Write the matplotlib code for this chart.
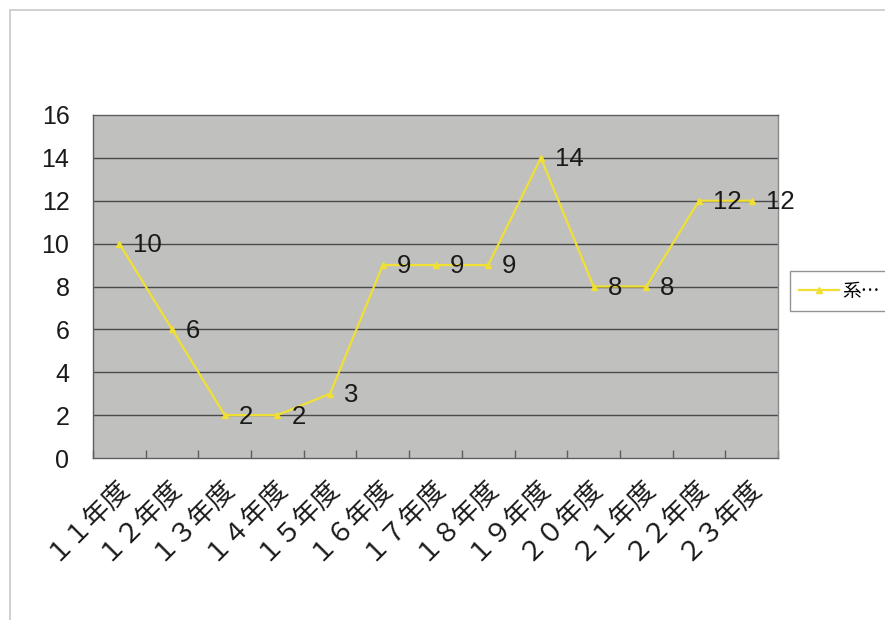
import matplotlib
matplotlib.use("Agg")
import matplotlib.pyplot as plt
from matplotlib.patches import Rectangle
from matplotlib.ticker import MultipleLocator
from matplotlib.transforms import ScaledTranslation

# 年度ごとの件数
categories = ["１１年度", "１２年度", "１３年度", "１４年度", "１５年度", "１６年度", "１７年度",
              "１８年度", "１９年度", "２０年度", "２１年度", "２２年度", "２３年度"]
values = [10, 6, 2, 2, 3, 9, 9, 9, 14, 8, 8, 12, 12]
y_ticks = [0, 2, 4, 6, 8, 10, 12, 14, 16]
series_name = "系…"

line_color = "#f0e034"
plot_bg = "#c0c1be"
frame_color = "#5e5e5e"
text_color = "#1a1a1a"

fig = plt.figure(figsize=(8.85, 6.2), dpi=100)
fig.patch.set_facecolor("white")

# グラフエリアの枠
fig.patches.append(Rectangle((10 / 885, -0.05), 1.1, 1.05 - 10 / 620,
                             transform=fig.transFigure, fill=False,
                             edgecolor="#c8c8c8", linewidth=1.2))

ax = fig.add_axes([93 / 885, 1 - 458 / 620, (778 - 93) / 885, (458 - 115) / 620])
ax.set_facecolor(plot_bg)

x = list(range(len(categories)))
ax.plot(x, values, color=line_color, linewidth=1.6, marker="^", markersize=5,
        markerfacecolor=line_color, markeredgecolor=line_color, label=series_name,
        zorder=3)

for xi, v in zip(x, values):
    ax.annotate(str(v), (xi, v), xytext=(10, -1), textcoords="offset points",
                ha="left", va="center", fontsize=18.5, family="Liberation Sans",
                color=text_color, zorder=4)

ax.set_xlim(-0.5, len(categories) - 0.5)
ax.set_ylim(0, 16)
ax.set_yticks(y_ticks)
ax.set_yticklabels([str(t) for t in y_ticks], fontsize=18, family="Liberation Sans",
                   color=text_color)
ax.tick_params(axis="y", length=0, pad=17)

ax.set_xticks(x)
ax.set_xticklabels(categories, rotation=45, ha="right", va="top",
                   rotation_mode="anchor", fontsize=19,
                   family=["Noto Sans CJK JP", "DejaVu Sans"], color=text_color)
ax.tick_params(axis="x", which="major", length=0, pad=10)
shift = ScaledTranslation(-5 / 100, 0, fig.dpi_scale_trans)
for lbl in ax.get_xticklabels():
    lbl.set_transform(lbl.get_transform() + shift)
ax.xaxis.set_minor_locator(MultipleLocator(1, offset=0.5))
ax.tick_params(axis="x", which="minor", direction="in", length=6,
               color=frame_color, width=1)

# 目盛線
for t in y_ticks[1:-1]:
    ax.axhline(t, color="#4a4a4a", linewidth=1.0, zorder=1)

for side in ["left", "right", "top", "bottom"]:
    ax.spines[side].set_color(frame_color)
    ax.spines[side].set_linewidth(1.0)
ax.spines["right"].set_color("#8a8a8a")

leg = fig.legend(loc="center left", bbox_to_anchor=(790 / 885, 1 - 291 / 620),
                 prop={"family": ["Noto Sans CJK JP", "DejaVu Sans"], "size": 13.5},
                 frameon=True, fancybox=False, edgecolor="#7a7a7a",
                 handlelength=2.1, handletextpad=0.2, borderpad=0.5,
                 borderaxespad=0)
leg.get_frame().set_linewidth(1.0)

fig.savefig("out.png", dpi=100)
